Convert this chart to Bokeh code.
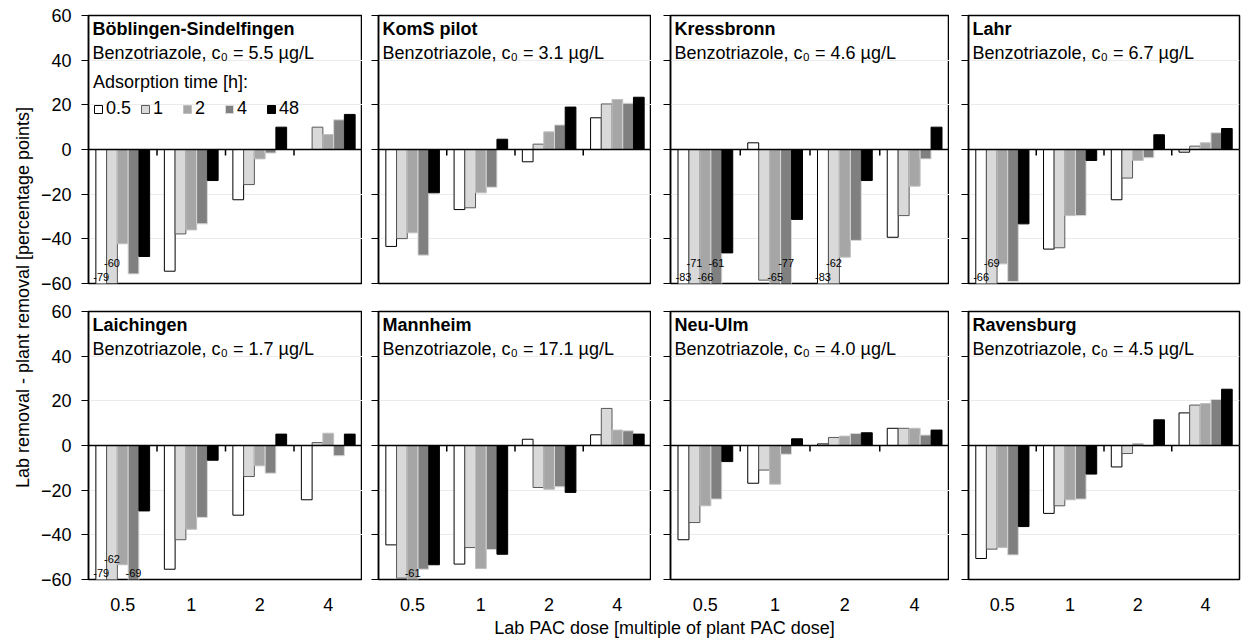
import math
from bokeh.plotting import figure
from bokeh.layouts import row, column
from bokeh.models import (ColumnDataSource, Range1d, FixedTicker, Span, Label,
                          Legend, LegendItem, CustomJSTickFormatter)
from bokeh.core.properties import value
from bokeh.embed import file_html
from bokeh.resources import INLINE

nan = float("nan")

# ---------------- data ----------------
doses = ["0.5", "1", "2", "4"]            # lab PAC dose [multiple of plant PAC dose]
times = ["0.5", "1", "2", "4", "48"]      # adsorption time [h]
y_ticks = [-60, -40, -20, 0, 20, 40, 60]

sites = ["Böblingen-Sindelfingen", "KomS pilot", "Kressbronn", "Lahr",
         "Laichingen", "Mannheim", "Neu-Ulm", "Ravensburg"]
c0_values = ["5.5", "3.1", "4.6", "6.7", "1.7", "17.1", "4.0", "4.5"]

# rows: adsorption time 0.5, 1, 2, 4, 48 h ; columns: dose 0.5, 1, 2, 4
boeblingen = [[-79, -54.5, -22.5, nan],
              [-60, -37.8, -15.7, 10.0],
              [-42.2, -36.0, -4.2, 6.7],
              [-55.7, -33.3, -1.6, 13.3],
              [-47.9, -13.9, 10.0, 15.7]]
koms = [[-43.4, -26.9, -5.5, 14.2],
        [-39.9, -26.1, 2.4, 20.4],
        [-37.3, -19.4, 7.9, 22.4],
        [-47.3, -16.9, 11.0, 20.7],
        [-19.4, 4.6, 19.0, 23.4]]
kressbronn = [[-83, 3.0, -83, -39.3],
              [-71, -58.5, -62, -29.6],
              [-66, -65, -48.2, -16.4],
              [-61, -77, -40.7, -4.2],
              [-46.3, -31.3, -13.9, 10.0]]
lahr = [[-66, -44.6, -22.5, -1.2],
        [-69, -44.0, -12.8, 1.5],
        [-51.2, -29.6, -4.9, 3.0],
        [-59.1, -29.6, -3.7, 7.5],
        [-33.3, -4.9, 6.6, 9.4]]
laichingen = [[-79, -55.4, -31.2, -24.3],
              [-62, -42.2, -13.9, 1.3],
              [-53.4, -37.5, -9.1, 5.5],
              [-69, -32.2, -12.4, -4.6],
              [-29.3, -6.6, 5.1, 5.1]]
mannheim = [[-44.5, -53.1, 2.8, 4.8],
            [-59.4, -45.7, -18.8, 16.6],
            [-61, -55.1, -19.6, 6.9],
            [-55.4, -46.6, -18.5, 6.6],
            [-53.4, -48.7, -21.0, 5.1]]
neu_ulm = [[-42.2, -16.9, 0.7, 7.7],
           [-34.5, -11.0, 3.6, 7.7],
           [-27.0, -17.3, 4.2, 7.7],
           [-24.0, -3.9, 5.4, 4.7],
           [-7.2, 3.0, 5.7, 6.9]]
ravensburg = [[-50.6, -30.4, -9.6, 14.6],
              [-46.4, -27.0, -3.6, 18.1],
              [-45.7, -24.3, 0.9, 18.8],
              [-49.0, -24.0, -0.4, 20.6],
              [-36.3, -12.8, 11.5, 25.2]]

site_data = [boeblingen, koms, kressbronn, lahr, laichingen, mannheim, neu_ulm, ravensburg]

# ---------------- style ----------------
FONT = "Liberation Sans"
FS = "18px"
fills = ["#ffffff", "#d9d9d9", "#a6a6a6", "#808080", "#000000"]
lines = ["#000000", "#595959", "#bfbfbf", "#d9d9d9", "#000000"]

FRAME_H = 268
FRAME_W = [274, 273, 279, 271]
BORDER_L = [52, 16, 19, 19]
BORDER_R = [0, 0, 0, 4]
YMIN, YMAX = -60, 60
BAR_W = 0.157


def make_panel(idx):
    col = idx % 4
    rowi = idx // 4
    data = site_data[idx]
    top_b = 15 if rowi == 0 else 14
    bot_b = 14 if rowi == 0 else 36
    p = figure(width=BORDER_L[col] + FRAME_W[col] + BORDER_R[col],
               height=top_b + FRAME_H + bot_b,
               x_range=Range1d(-0.5, len(doses) - 0.5),
               y_range=Range1d(YMIN, YMAX),
               output_backend="svg", toolbar_location=None,
               min_border_left=BORDER_L[col], min_border_right=BORDER_R[col],
               min_border_top=top_b, min_border_bottom=bot_b)
    p.background_fill_color = "white"
    p.border_fill_color = "white"
    p.outline_line_color = "black"
    p.outline_line_width = 1.5
    p.outline_line_alpha = 1

    # grid
    p.xgrid.visible = False
    p.ygrid.ticker = FixedTicker(ticks=y_ticks)
    p.ygrid.grid_line_color = "#ebebeb"
    p.ygrid.grid_line_width = 1

    # y axis
    ya = p.yaxis[0]
    ya.ticker = FixedTicker(ticks=y_ticks)
    ya.major_tick_out = 7
    ya.major_tick_in = 0
    ya.minor_tick_out = 0
    ya.minor_tick_in = 0
    ya.axis_line_color = "black"
    ya.axis_line_width = 1.5
    ya.major_tick_line_color = "black"
    ya.major_tick_line_width = 1
    ya.major_label_text_font = FONT
    ya.major_label_text_font_size = FS
    ya.major_label_text_color = "black"
    ya.major_label_standoff = 10
    if col != 0:
        ya.formatter = CustomJSTickFormatter(code="return ''")

    # x axis
    xa = p.xaxis[0]
    if rowi == 0:
        xa.visible = False
    else:
        xa.ticker = FixedTicker(ticks=list(range(len(doses))))
        xa.major_label_overrides = {i: d for i, d in enumerate(doses)}
        xa.major_tick_out = 0
        xa.major_tick_in = 0
        xa.minor_tick_out = 0
        xa.minor_tick_in = 0
        xa.axis_line_color = None
        xa.major_label_text_font = FONT
        xa.major_label_text_font_size = FS
        xa.major_label_text_color = "black"
        xa.major_label_standoff = 18

    # bars
    renderers = []
    for k, t in enumerate(times):
        xs = [i + (k - 2) * BAR_W for i in range(len(doses))]
        src = ColumnDataSource(dict(x=xs, top=data[k]))
        r = p.vbar(x="x", top="top", bottom=0, width=BAR_W, source=src,
                   fill_color=fills[k], line_color=lines[k], line_width=1)
        renderers.append(r)

    # data labels for bars that run off the axis
    lx, ly, lt = [], [], []
    for i in range(len(doses)):
        n = 0
        for k in range(len(times)):
            v = data[k][i]
            if v == v and v <= YMIN:
                lx.append(i + (k - 2) * BAR_W)
                ly.append(-57.3 if n % 2 == 0 else -51.0)
                lt.append(f"{v:.0f}")
                n += 1
    if lt:
        p.text(x=lx, y=ly, text=lt, text_font=value(FONT), text_font_size=value("11px"),
               text_align="center", text_baseline="middle", text_color="black")

    # zero line and category separators
    p.add_layout(Span(location=0, dimension="width", line_color="black", line_width=1.5))
    tick_len = 6 * (YMAX - YMIN) / FRAME_H
    bx = [i + 0.5 for i in range(len(doses) - 1)]
    p.segment(x0=bx, y0=[0] * len(bx), x1=bx, y1=[-tick_len] * len(bx),
              line_color="black", line_width=1.5)

    # panel texts
    p.add_layout(Label(x=4, y=FRAME_H - 3, x_units="screen", y_units="screen",
                       text=sites[idx], text_font=FONT, text_font_size=FS,
                       text_font_style="bold", text_color="black",
                       text_align="left", text_baseline="top"))
    p.add_layout(Label(x=4, y=FRAME_H - 27, x_units="screen", y_units="screen",
                       text=f"Benzotriazole, c\u2080 = {c0_values[idx]} µg/L",
                       text_font=FONT, text_font_size=FS, text_color="black",
                       text_align="left", text_baseline="top"))

    if idx == 0:
        legend = Legend(items=[LegendItem(label=t, renderers=[r]) for t, r in zip(times, renderers)],
                        orientation="horizontal", location=(5, 164),
                        title="Adsorption time [h]:",
                        title_text_font=FONT, title_text_font_size=FS,
                        title_text_font_style="normal", title_text_color="black",
                        title_standoff=5,
                        label_text_font=FONT, label_text_font_size=FS, label_text_color="black",
                        glyph_width=10, glyph_height=10, label_standoff=3, spacing=9,
                        padding=0, margin=0, border_line_color=None,
                        background_fill_alpha=0, label_height=20)
        p.add_layout(legend)
    return p


panels = [make_panel(i) for i in range(8)]

TOTAL_H = 643
ylab = figure(width=36, height=TOTAL_H, x_range=Range1d(0, 1), y_range=Range1d(0, 1),
              x_axis_type=None, y_axis_type=None, output_backend="svg",
              toolbar_location=None, min_border=0)
ylab.outline_line_color = None
ylab.grid.visible = False
ylab.add_layout(Label(x=22, y=TOTAL_H - 297, x_units="screen", y_units="screen",
                      text="Lab removal - plant removal [percentage points]",
                      angle=math.pi / 2, text_font=FONT, text_font_size=FS, text_color="black",
                      text_align="center", text_baseline="middle"))

xlab = figure(width=1243 - 36, height=28, x_range=Range1d(0, 1), y_range=Range1d(0, 1),
              x_axis_type=None, y_axis_type=None, output_backend="svg",
              toolbar_location=None, min_border=0)
xlab.outline_line_color = None
xlab.grid.visible = False
xlab.add_layout(Label(x=664 - 36, y=16, x_units="screen", y_units="screen",
                      text="Lab PAC dose [multiple of plant PAC dose]",
                      text_font=FONT, text_font_size=FS, text_color="black",
                      text_align="center", text_baseline="middle"))

layout = row(ylab, column(row(*panels[:4], spacing=0), row(*panels[4:], spacing=0), xlab, spacing=0),
             spacing=0)

open("out.html", "w").write(file_html(layout, INLINE))
